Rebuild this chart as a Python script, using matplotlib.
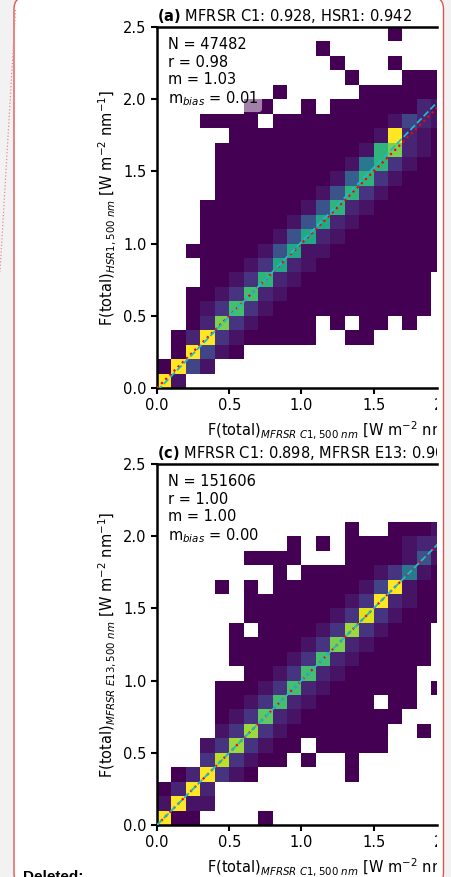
import numpy as np
import matplotlib
matplotlib.use("Agg")
import matplotlib.pyplot as plt
from matplotlib.patches import FancyBboxPatch
from matplotlib.lines import Line2D
from matplotlib.transforms import Bbox, TransformedBbox, IdentityTransform

# colour level of each 0.1 x 0.1 bin
# '.' = empty bin, '0'..'K' = position on viridis from 0 to 1 in steps of 0.05
# rows run from y = 2.4-2.5 (top) down to y = 0.0-0.1, columns from x = 0.0 to 2.0
LEVELS = "0123456789ABCDEFGHIJK"

hist_a_rows = [
    "................0...",
    "...........0........",
    "............0...0...",
    ".............0...000",
    "........0.....000000",
    "......00..0.00000021",
    "...0000.000000001421",
    ".....00000000001K210",
    "....00000000001DG210",
    "....00000000018D3100",
    "....0000000016D31000",
    "....000000015D310000",
    "...00000001" + "5D21" + "00000",
    "...000000" + "15C21" + "000000",
    "...00000" + "15C21" + "0000000",
    "..00000" + "15C11" + "00000000",
    "...000" + "13C21" + "000000000",
    "...00" + "13D21" + "000000000.",
    "..00" + "13E21" + "0000000000.",
    "..0" + "13E31" + "00000000000.",
    "..02G310000.0.00.0..",
    ".02K3100000..00.....",
    ".0K410..............",
    "0K41................",
    "K1..................",
]

hist_c_rows = [
    "....................",
    "....................",
    "....................",
    "....................",
    ".............0..0001",
    ".........0.0.0000122",
    "......0000...0000151",
    "........0.0000013810",
    "....0.0.00000014K100",
    "......000000013K2100",
    "......00000013J31000",
    ".....0.000013H31000.",
    ".....0000013G210000.",
    ".....000013E2100000.",
    "......0013E2100000..",
    "....00013E21000000.0",
    "....0013E210000.00..",
    "....013F210000000...",
    "....13H310000000..0.",
    "...13H3100.00000....",
    "...3I3100.0..0......",
    ".02K310......0......",
    "02K2................",
    "1K11................",
    "K00....0............",
]

x_edges = np.linspace(0.0, 2.0, 21)
y_edges = np.linspace(0.0, 2.5, 26)

panel_tags = ["(a)", "(c)"]
panel_titles = ["MFRSR C1: 0.928, HSR1: 0.942", "MFRSR C1: 0.898, MFRSR E13: 0.901"]
y_instruments = [r"HSR1", r"MFRSR\ E13"]
n_points = [47482, 151606]
r_values = [0.98, 1.00]
slopes = [1.03, 1.00]
m_bias = [0.01, 0.00]
fit_offsets = [-0.02, 0.00]


def to_grid(rows):
    vals = np.full((len(rows), len(rows[0])), np.nan)
    for r, line in enumerate(rows):
        for c, ch in enumerate(line):
            if ch != ".":
                vals[r, c] = LEVELS.index(ch) / 20
    return np.ma.masked_invalid(vals[::-1])


W, H = 451, 877
fig = plt.figure(figsize=(W / 100, H / 100), dpi=100)
fig.patch.set_facecolor("#f2f2f2")

# page box with tracked-change border
page = FancyBboxPatch((14, -8), 429.5, 888, boxstyle="round,pad=0,rounding_size=12",
                      transform=IdentityTransform(), facecolor="white",
                      edgecolor="#e05555", linewidth=1.0, zorder=-2)
fig.patches.append(page)
fig.lines.append(Line2D([15.5, 0], [H - 10, H - 272], transform=IdentityTransform(),
                        color="#ee8888", linestyle=":", linewidth=0.9, zorder=-1))
fig.text(23 / W, -4 / H, "Deleted:", fontsize=11, fontweight="bold",
         family=["Liberation Sans", "DejaVu Sans"], va="baseline")

# the picture is cut off at x = 437 px
clip = TransformedBbox(Bbox([[0, 0], [437 / W, 1]]), fig.transFigure)

px_per_unit = 144.4
ax_left, ax_right = 157, 437
tops = [27, 464]
xmax = (ax_right - ax_left) / px_per_unit
fs = 10.5

for k, rows in enumerate([hist_a_rows, hist_c_rows]):
    top = tops[k]
    ax = fig.add_axes([ax_left / W, (H - top - 361) / H, (ax_right - ax_left) / W, 361 / H])
    ax.set_facecolor("none")
    ax.pcolormesh(x_edges, y_edges, to_grid(rows), cmap="viridis", vmin=0, vmax=1)

    xs = np.array([0.0, 2.5])
    ax.plot(xs, xs, color="red", linestyle=":", linewidth=1.6, zorder=3)
    ax.plot(xs, slopes[k] * xs + fit_offsets[k], color="tab:cyan", linestyle="--",
            linewidth=1.3, zorder=4)

    ax.set_xlim(0, xmax)
    ax.set_ylim(0, 2.5)
    ax.set_xticks([0.0, 0.5, 1.0, 1.5])
    ax.set_yticks([0.0, 0.5, 1.0, 1.5, 2.0, 2.5])
    ax.xaxis.set_major_formatter(matplotlib.ticker.FormatStrFormatter("%.1f"))
    ax.yaxis.set_major_formatter(matplotlib.ticker.FormatStrFormatter("%.1f"))
    ax.tick_params(labelsize=fs, length=4.5, width=1.5, pad=3)
    ax.spines["right"].set_visible(False)
    for s in ["left", "bottom", "top"]:
        ax.spines[s].set_linewidth(1.8)

    cut = ax.annotate("2.0", xy=(2.0, 0), xycoords=("data", "axes fraction"),
                      xytext=(0, -7.5), textcoords="offset points", ha="center", va="top",
                      fontsize=fs, annotation_clip=False)
    cut.set_clip_on(True)
    cut.set_clip_box(clip)

    title = ax.set_title(r"$\bf{" + panel_tags[k] + "}$ " + panel_titles[k],
                         loc="left", fontsize=fs, pad=4)
    title.set_clip_on(True)
    title.set_clip_box(clip)

    full_center = ((ax_left + ax_left + 2.5 * px_per_unit) / 2 - ax_left) / (ax_right - ax_left)
    xl = ax.set_xlabel(r"F(total)$_{MFRSR\ C1, 500\ nm}$ [W m$^{-2}$ nm$^{-1}$]",
                       fontsize=fs, x=full_center)
    xl.set_clip_on(True)
    xl.set_clip_box(clip)
    ax.set_ylabel(r"F(total)$_{" + y_instruments[k] + r", 500\ nm}$ [W m$^{-2}$ nm$^{-1}$]",
                  fontsize=fs)

    stats = (f"N = {n_points[k]}\nr = {r_values[k]:.2f}\nm = {slopes[k]:.2f}\n"
             f"m$_{{bias}}$ = {m_bias[k]:.2f}")
    ax.text(0.039, 0.972, stats, transform=ax.transAxes, ha="left", va="top", fontsize=fs,
            zorder=5, bbox=dict(boxstyle="round,pad=0.25", facecolor="white",
                                edgecolor="none", alpha=0.5))

fig.savefig("out.png", dpi=100, facecolor=fig.get_facecolor())
